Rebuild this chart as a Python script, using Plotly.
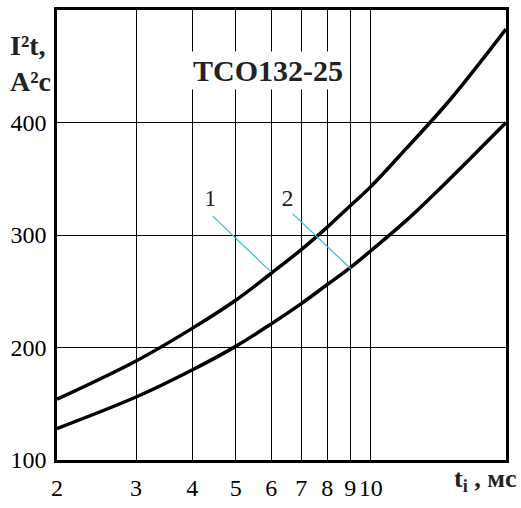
"""I2t vs pulse duration for TCO132-25"""

import plotly.graph_objects as go

# data
t_ms = [2, 3, 4, 5, 6, 7, 8, 9, 10, 12, 15, 20]
i2t_1 = [154, 188, 217, 242, 266, 287, 307, 326, 343, 377, 420, 483]
i2t_2 = [128, 156, 180, 201, 221, 239, 256, 271, 286, 313, 350, 400]

x_ticks = [2, 3, 4, 5, 6, 7, 8, 9, 10]
y_ticks = [100, 200, 300, 400]

# curve labels and their leader lines
label_names = ['1', '2']
label_x = [4.39, 6.52]
label_y = [331, 331]
leader_x = [[4.44, 6.0], [6.69, 9.02]]
leader_y = [[317, 267], [319, 270]]

SERIF = 'Liberation Serif'
LEADER = '#3cb9e8'

fig = go.Figure()

for ys in (i2t_1, i2t_2):
    fig.add_trace(go.Scatter(
        x=t_ms, y=ys, mode='lines',
        line=dict(color='black', width=3.5, shape='spline'),
        showlegend=False, hoverinfo='skip'
    ))

for lx, ly in zip(leader_x, leader_y):
    fig.add_trace(go.Scatter(
        x=lx, y=ly, mode='lines',
        line=dict(color=LEADER, width=1.3),
        showlegend=False, hoverinfo='skip'
    ))

fig.add_trace(go.Scatter(
    x=label_x, y=label_y, mode='text', text=label_names,
    textfont=dict(family=SERIF, size=24, color='#222'),
    showlegend=False, hoverinfo='skip'
))

fig.update_layout(
    width=521, height=508,
    margin=dict(l=57, r=15, t=7, b=46),
    plot_bgcolor='white', paper_bgcolor='white',
    font=dict(family=SERIF, size=24, color='black'),
)

fig.update_xaxes(
    type='log', range=[0.30103, 1.30103],
    tickvals=x_ticks, ticktext=[str(v) for v in x_ticks],
    showgrid=True, gridcolor='black', gridwidth=1,
    showline=True, linecolor='black', linewidth=2.5, mirror=True,
    ticks='', zeroline=False, ticklabelstandoff=4,
)
fig.update_yaxes(
    range=[100, 500], tickvals=y_ticks,
    showgrid=True, gridcolor='black', gridwidth=1,
    showline=True, linecolor='black', linewidth=2.5, mirror=True,
    ticks='', zeroline=False, ticklabelstandoff=3,
)

# title box over the grid
fig.add_annotation(
    xref='paper', yref='paper', x=0.469, y=0.909,
    text='<b>TCO132-25</b>', showarrow=False,
    font=dict(family=SERIF, size=30, color='#222'),
    bgcolor='white', borderpad=2,
)

# axis titles
fig.add_annotation(
    xref='paper', yref='paper', x=-0.11, y=0.96, xanchor='left',
    text='<b>I²t,</b>', showarrow=False,
    font=dict(family=SERIF, size=28, color='#222'),
)
fig.add_annotation(
    xref='paper', yref='paper', x=-0.11, y=0.879, xanchor='left',
    text='<b>A²c</b>', showarrow=False,
    font=dict(family=SERIF, size=28, color='#222'),
)
fig.add_annotation(
    xref='paper', yref='paper', x=1.027, y=-0.085, xanchor='right',
    text='<b>t<sub>i</sub> , мс</b>', showarrow=False,
    font=dict(family=SERIF, size=26, color='#222'),
)

# drop the default page margin so the figure sits at the window corner
fig.write_html('out.html', config={'displayModeBar': False},
               post_script="document.body.style.margin='0';")
